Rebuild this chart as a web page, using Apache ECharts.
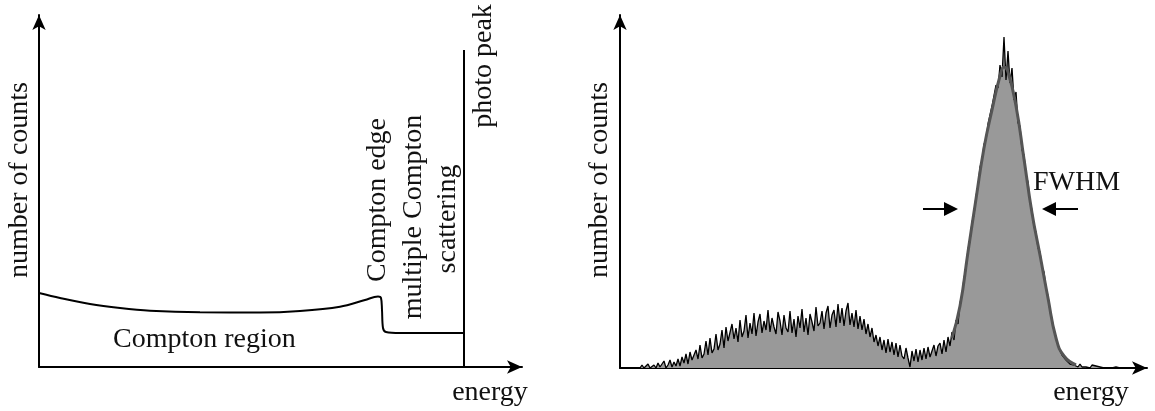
<!DOCTYPE html>
<html>
<head>
<meta charset="utf-8">
<title>Gamma spectrum</title>
<script src="https://cdn.jsdelivr.net/npm/echarts@6/dist/echarts.min.js"></script>
<style>
  html, body { margin: 0; padding: 0; background: #fff; }
  #chart { width: 1155px; height: 411px; }
</style>
</head>
<body>
<div id="chart"></div>
<script>
// left panel: idealised spectrum, arbitrary units
var comptonEnergy = [0, 21, 51, 81, 111, 161, 221, 261, 301, 326, 339, 342, 343, 344, 347, 361, 425]
var comptonCounts = [74, 69, 63, 59, 56.3, 54.7, 54.5, 56, 60.3, 67, 70.5, 69, 57, 39, 35, 34, 34]
var photoPeakEnergy = 425
var photoPeakHeight = 317

// right panel: measured spectrum, one value per channel from firstChannel on
var firstChannel = 10
var counts = [
  0, 3, 0, 1, 4, 0, 2, 3, 0, 5,
  1, 4, 7, 0, 3, 8, 1, 6, 2, 9,
  2, 11, 5, 14, 4, 16, 8, 6, 18, 9,
  23, 10, 14, 27, 13, 30, 15, 19, 34, 18,
  24, 38, 20, 41, 27, 25, 44, 29, 40, 26,
  48, 31, 37, 53, 30, 45, 34, 55, 32, 46,
  54, 35, 47, 38, 58, 36, 50, 41, 34, 56,
  47, 33, 53, 40, 36, 57, 35, 49, 31, 52,
  40, 59, 36, 50, 33, 54, 46, 37, 61, 42,
  45, 57, 39, 55, 62, 40, 53, 58, 41, 64,
  45, 60, 42, 57, 65, 43, 55, 41, 58, 39,
  52, 38, 49, 34, 44, 31, 40, 26, 33, 22,
  31, 18, 28, 15, 29, 16, 26, 13, 25, 11,
  23, 12, 9, 20, 10, 1, 17, 7, 19, 6,
  18, 8, 20, 9, 21, 11, 10, 23, 12, 22,
  25, 14, 28, 16, 31, 22, 36, 28, 48, 44,
  65, 73, 90, 99, 119, 127, 146, 153, 172, 181,
  201, 207, 224, 228, 244, 246, 262, 264, 283, 280,
  303, 291, 331, 288, 317, 285, 300, 268, 276, 245,
  242, 218, 213, 193, 186, 166, 158, 141, 136, 120,
  116, 101, 96, 80, 72, 57, 49, 37, 31, 22,
  20, 13, 14, 8, 9, 4, 6, 3, 5, 1,
  4, 1, 3, 1, 2, 0, 3, 1, 2, 0,
  1, 2, 0, 1, 0, 1, 0, 0, 1, 0, 0
]
// fitted photo peak
var fitChannels = [166, 170, 174, 178, 182, 186, 190, 192, 194, 198, 202, 206, 210, 214, 218, 222, 228]
var fitCounts = [30, 62, 116, 169, 220, 258, 292, 301, 296, 262, 209, 155, 113, 70, 30, 12, 3]
// FWHM arrows: [from, to] channel, at half maximum
var fwhmLeft = [151.5, 165.5]
var fwhmRight = [229, 214.5]
var halfMax = 159

var chart = echarts.init(document.getElementById('chart'))

var font = 'Liberation Serif, Times New Roman, serif'
var fs = 28

function plainAxis(max, grid) {
  return {
    type: 'value',
    gridIndex: grid,
    min: 0,
    max: max,
    axisLine: {
      show: true,
      onZero: false,
      symbol: ['none', 'arrow'],
      symbolSize: [10, 15],
      lineStyle: { color: '#000', width: 2 }
    },
    axisTick: { show: false },
    axisLabel: { show: false },
    splitLine: { show: false }
  }
}
function label(text, x, y, rot, align) {
  return {
    type: 'text',
    x: x,
    y: y,
    rotation: rot ? Math.PI / 2 : 0,
    style: {
      text: text,
      fill: '#111',
      font: fs + 'px ' + font,
      align: align || 'center',
      verticalAlign: 'middle'
    }
  }
}

var comptonData = comptonEnergy.map(function (e, i) { return [e, comptonCounts[i]] })
var specData = counts.map(function (c, i) { return [firstChannel + i, c] })
var fitData = fitChannels.map(function (ch, i) { return [ch, fitCounts[i]] })

var option = {
  animation: false,
  grid: [
    { left: 39, top: 15, width: 483, height: 352 },
    { left: 620, top: 15, width: 527, height: 353 }
  ],
  xAxis: [plainAxis(483, 0), plainAxis(263.5, 1)],
  yAxis: [plainAxis(352, 0), plainAxis(353, 1)],
  series: [
    {
      type: 'line',
      xAxisIndex: 0,
      yAxisIndex: 0,
      data: comptonData,
      smooth: 0.35,
      showSymbol: false,
      lineStyle: { color: '#000', width: 2 }
    },
    {
      type: 'line',
      xAxisIndex: 0,
      yAxisIndex: 0,
      data: [[photoPeakEnergy, 0], [photoPeakEnergy, photoPeakHeight]],
      showSymbol: false,
      lineStyle: { color: '#000', width: 2 }
    },
    {
      type: 'line',
      xAxisIndex: 1,
      yAxisIndex: 1,
      data: specData,
      showSymbol: false,
      lineStyle: { color: '#000', width: 1.3 },
      areaStyle: { color: '#999999', opacity: 1 },
      markLine: {
        silent: true,
        symbol: ['none', 'triangle'],
        symbolSize: 14,
        label: { show: false },
        lineStyle: { color: '#000', width: 2, type: 'solid' },
        data: [
          [{ coord: [fwhmLeft[0], halfMax] }, { coord: [fwhmLeft[1], halfMax] }],
          [{ coord: [fwhmRight[0], halfMax] }, { coord: [fwhmRight[1], halfMax] }]
        ]
      }
    },
    {
      type: 'line',
      xAxisIndex: 1,
      yAxisIndex: 1,
      data: fitData,
      smooth: true,
      showSymbol: false,
      lineStyle: { color: '#555', width: 3 }
    }
  ],
  graphic: [
    label('number of counts', 20, 180, true),
    label('number of counts', 600, 180, true),
    label('Compton region', 113, 340, false, 'left'),
    label('Compton edge', 378, 200, true),
    label('multiple Compton', 414, 217, true),
    label('scattering', 448, 219, true),
    label('photo peak', 484, 66, true),
    label('energy', 490, 393),
    label('energy', 1091, 393),
    label('FWHM', 1033, 183, false, 'left')
  ]
}

chart.setOption(option)
</script>
</body>
</html>
